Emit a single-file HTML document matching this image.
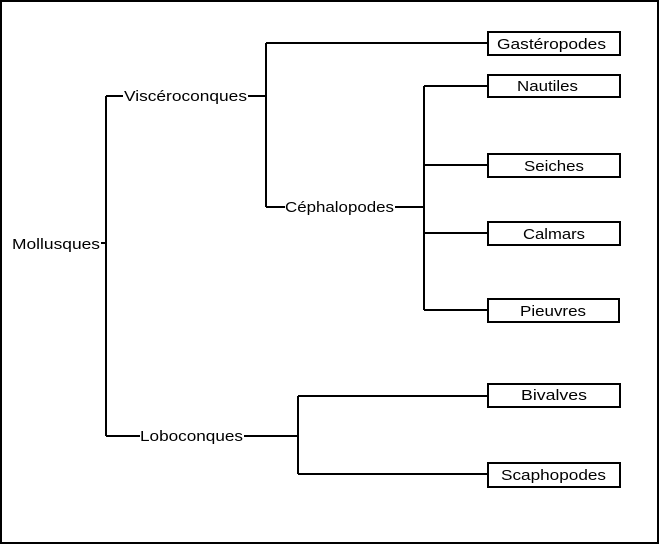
<!DOCTYPE html>
<html><head><style>body{margin:0;background:#fff}svg{display:block}text{font-family:"Liberation Sans",Arial,sans-serif;font-size:15px;fill:#000}</style></head>
<body>
<svg width="660" height="545" viewBox="0 0 660 545" xmlns="http://www.w3.org/2000/svg">
<rect x="1" y="1" width="657" height="542" fill="#fff" stroke="#000" stroke-width="2"/>
<g stroke="#000" stroke-width="2" fill="none">
<path d="M101 243H106M106 96V436M106 96H123M248 96H266M266 43V207M266 43H488M266 207H285M395 207H424M424 86V310M424 86H488M424 165H488M424 233H488M424 310H488M106 436H140M244 436H298M298 396V474M298 396H488M298 474H488"/>
<rect x="488" y="32" width="132" height="23"/>
<rect x="488" y="75" width="132" height="22"/>
<rect x="488" y="154" width="132" height="23"/>
<rect x="488" y="222" width="132" height="23"/>
<rect x="488" y="299" width="131" height="23"/>
<rect x="488" y="384" width="132" height="23"/>
<rect x="488" y="463" width="132" height="24"/>
</g>
<text x="12" y="249" textLength="88" lengthAdjust="spacingAndGlyphs">Mollusques</text>
<text x="124" y="101" textLength="123" lengthAdjust="spacingAndGlyphs">Viscéroconques</text>
<text x="285" y="212" textLength="109" lengthAdjust="spacingAndGlyphs">Céphalopodes</text>
<text x="140" y="441" textLength="103" lengthAdjust="spacingAndGlyphs">Loboconques</text>
<text x="497" y="49" textLength="109" lengthAdjust="spacingAndGlyphs">Gastéropodes</text>
<text x="517" y="91" textLength="61" lengthAdjust="spacingAndGlyphs">Nautiles</text>
<text x="524" y="171" textLength="60" lengthAdjust="spacingAndGlyphs">Seiches</text>
<text x="523" y="239" textLength="62" lengthAdjust="spacingAndGlyphs">Calmars</text>
<text x="520" y="316" textLength="66" lengthAdjust="spacingAndGlyphs">Pieuvres</text>
<text x="521" y="400" textLength="66" lengthAdjust="spacingAndGlyphs">Bivalves</text>
<text x="501" y="480" textLength="105" lengthAdjust="spacingAndGlyphs">Scaphopodes</text>
</svg>
</body></html>
